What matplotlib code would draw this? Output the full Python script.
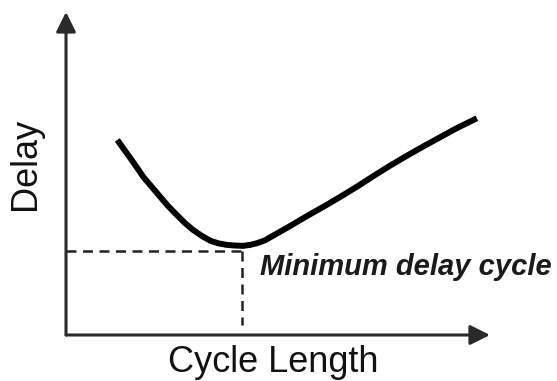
import matplotlib
matplotlib.use("Agg")
import matplotlib.pyplot as plt

# Delay versus cycle length (arbitrary units)
cycle_length = [1.21, 1.35, 1.51, 1.67, 1.82, 2.02, 2.22, 2.41, 2.61,
                2.81, 3.00, 3.20, 3.40, 3.59, 3.79, 3.98, 4.18, 4.34,
                4.50, 4.69, 4.89, 5.08, 5.28, 5.68, 6.07, 6.46, 6.86,
                7.25, 7.64, 8.04, 8.43, 8.82, 9.21, 9.69]
delay = [6.04, 5.78, 5.49, 5.19, 4.90, 4.59, 4.28, 3.99, 3.72,
         3.46, 3.25, 3.07, 2.92, 2.84, 2.79, 2.77, 2.76, 2.79,
         2.84, 2.93, 3.08, 3.22, 3.37, 3.68, 3.97, 4.27, 4.59,
         4.92, 5.24, 5.55, 5.84, 6.12, 6.40, 6.71]

# Reference point marked with dashed guides
min_cycle = 4.15
min_delay = 2.60

x_label = "Cycle Length"
y_label = "Delay"
min_label = "Minimum delay cycle"

W, H = 557, 381
fig = plt.figure(figsize=(W / 100, H / 100), dpi=100)
fig.patch.set_facecolor("white")
ax = fig.add_axes([66 / W, 46 / H, (490 - 66) / W, (369 - 46) / H])
ax.set_xlim(0, 10)
ax.set_ylim(0, 10)
ax.axis("off")

axis_color = "#2a2a2a"
arrow_style = "-|>,head_length=0.6,head_width=0.3"
for tip in [(1, 0), (0, 1)]:
    ax.annotate("", xy=tip, xytext=(0, 0),
                xycoords="axes fraction", textcoords="axes fraction",
                arrowprops=dict(arrowstyle=arrow_style, lw=2.2,
                                color=axis_color, mutation_scale=20,
                                shrinkA=0, shrinkB=0),
                annotation_clip=False)

# Dashed guides to the minimum
dash_kw = dict(color="#222222", lw=1.8, dashes=(4, 2.6), clip_on=False)
ax.plot([0, min_cycle], [min_delay, min_delay], **dash_kw)
ax.plot([min_cycle, min_cycle], [min_delay, 0.31], **dash_kw)

# Delay curve
ax.plot(cycle_length, delay, color="black", lw=4.3,
        solid_joinstyle="round", solid_capstyle="butt", clip_on=False)

fig.text(260 / W, 1 - 275 / H, min_label, ha="left", va="baseline",
         fontsize=21, fontweight="bold", fontstyle="italic",
         family="Liberation Sans", color="#1a1a1a")
fig.text(273 / W, 1 - 372 / H, x_label, ha="center", va="baseline",
         fontsize=26, family="Liberation Sans", color="#111111")
fig.text(35 / W, 1 - 164 / H, y_label, ha="center", va="baseline",
         rotation=90, fontsize=26, family="Liberation Sans",
         color="#111111", rotation_mode="anchor")

fig.savefig("out.png", dpi=100, facecolor="white")
